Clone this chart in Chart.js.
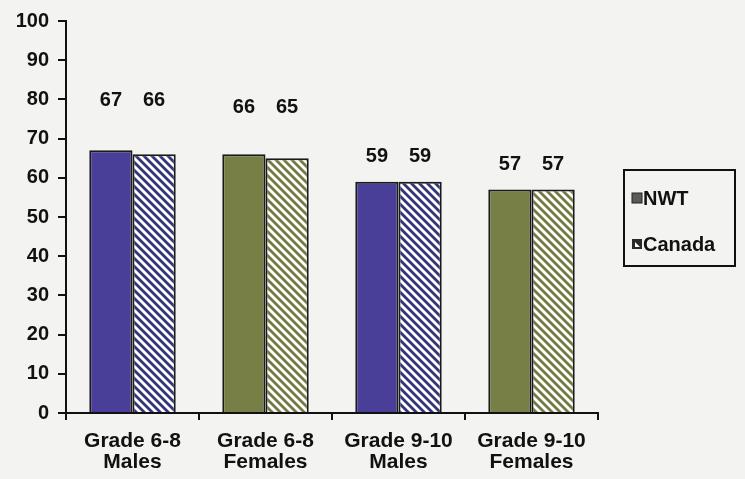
<!DOCTYPE html>
<html>
<head>
<meta charset="utf-8">
<script src="https://cdn.jsdelivr.net/npm/chart.js@4.4.0/dist/chart.umd.min.js"></script>
<style>
  html, body { margin: 0; padding: 0; background: #f3f3f1; }
  #c { display: block; }
</style>
</head>
<body>
<canvas id="c" width="745" height="479"></canvas>
<script>
// ---- data ----
const categories = [["Grade 6-8", "Males"], ["Grade 6-8", "Females"], ["Grade 9-10", "Males"], ["Grade 9-10", "Females"]];
const seriesNames = ["NWT", "Canada"];
const nwtValues = [67, 66, 59, 57];
const canadaValues = [66, 65, 59, 57];
const yTicks = [0, 10, 20, 30, 40, 50, 60, 70, 80, 90, 100];

// ---- styles ----
const FONT = "'Liberation Sans', Arial, sans-serif";
const BLUE = "#4a3f98";
const OLIVE = "#787f46";
const BLUE_H = "#33357a";
const OLIVE_H = "#747b42";

function hatch(bg) {
  const s = 16, step = 8;
  const c = document.createElement('canvas');
  c.width = s; c.height = s;
  const g = c.getContext('2d');
  g.fillStyle = bg; g.fillRect(0, 0, s, s);
  g.strokeStyle = '#ffffff'; g.lineWidth = 2.8; g.lineCap = 'square';
  for (let k = -3; k <= 3; k++) {
    g.beginPath();
    g.moveTo(k * step - 4, -4);
    g.lineTo(k * step + s + 4, s + 4);
    g.stroke();
  }
  return g.createPattern(c, 'repeat');
}
const ctx = document.getElementById('c').getContext('2d');
const blueHatch = hatch(BLUE_H);
const oliveHatch = hatch(OLIVE_H);

const valueLabels = {
  id: 'valueLabels',
  afterDatasetsDraw(chart, args, opts) {
    const g = chart.ctx;
    const ys = chart.scales.y;
    g.save();
    g.font = "bold 20px " + FONT;
    g.fillStyle = '#111';
    g.textAlign = 'center';
    g.textBaseline = 'middle';
    chart.data.datasets.forEach((ds, di) => {
      const meta = chart.getDatasetMeta(di);
      meta.data.forEach((el, i) => {
        const groupMax = Math.max(...chart.data.datasets.map(d => d.data[i]));
        const y = ys.getPixelForValue(groupMax) - opts.offsets[i];
        g.fillText(String(ds.data[i]), el.x, y);
      });
    });
    g.restore();
  }
};

const boxLegend = {
  id: 'boxLegend',
  afterDraw(chart) {
    const g = chart.ctx;
    const ca = chart.chartArea;
    const x = ca.right + 26, w = 111, h = 96;
    const y = (ca.top + ca.bottom) / 2 - h / 2 + 1;
    g.save();
    g.strokeStyle = '#111'; g.lineWidth = 2;
    g.strokeRect(x, y, w, h);
    g.font = "bold 20px " + FONT;
    g.fillStyle = '#111';
    g.textBaseline = 'middle';
    g.textAlign = 'left';
    const mx = x + 8;
    let my = y + 28;
    g.fillStyle = '#5a5a5a'; g.fillRect(mx, my - 5, 10, 10);
    g.strokeStyle = '#222'; g.lineWidth = 1; g.strokeRect(mx, my - 5, 10, 10);
    g.fillStyle = '#111'; g.fillText(seriesNames[0], mx + 11, my + 1);
    my = y + 74;
    g.fillStyle = '#2a2a2a'; g.fillRect(mx, my - 5, 10, 10);
    g.fillStyle = '#ffffff';
    g.beginPath(); g.moveTo(mx + 3, my - 2); g.lineTo(mx + 8, my + 3); g.lineTo(mx + 3, my + 3); g.closePath(); g.fill();
    g.fillStyle = '#111'; g.fillText(seriesNames[1], mx + 11, my + 1);
    g.restore();
  }
};

new Chart(ctx, {
  type: 'bar',
  data: {
    labels: categories,
    datasets: [
      {
        label: seriesNames[0],
        data: nwtValues,
        backgroundColor: [BLUE, OLIVE, BLUE, OLIVE],
        borderColor: '#1a1a1a',
        borderWidth: 2,
        borderSkipped: 'bottom'
      },
      {
        label: seriesNames[1],
        data: canadaValues,
        backgroundColor: [blueHatch, oliveHatch, blueHatch, oliveHatch],
        borderColor: '#1a1a1a',
        borderWidth: 2,
        borderSkipped: 'bottom'
      }
    ]
  },
  options: {
    responsive: false,
    devicePixelRatio: 1,
    animation: false,
    categoryPercentage: 0.65,
    barPercentage: 1.0,
    layout: { padding: { left: 0, top: 3, right: 147, bottom: 0 } },
    plugins: {
      legend: { display: false },
      tooltip: { enabled: false },
      valueLabels: { offsets: [50, 47, 25, 25] }
    },
    scales: {
      x: {
        afterFit(scale) { scale.height = 66; },
        grid: { offset: true, drawOnChartArea: false, drawTicks: true, tickLength: 7, color: '#111', lineWidth: 2 },
        border: { display: true, color: '#111', width: 2 },
        ticks: { color: '#111', font: { family: FONT, size: 21, weight: 'bold', lineHeight: 1.0 }, padding: 11, maxRotation: 0, autoSkip: false }
      },
      y: {
        min: 0, max: 100,
        afterFit(scale) { scale.width = 66; },
        afterBuildTicks(scale) { scale.ticks = yTicks.map(v => ({ value: v })); },
        grid: { drawOnChartArea: false, drawTicks: true, tickLength: 8, color: '#111', lineWidth: 2 },
        border: { display: true, color: '#111', width: 2 },
        ticks: { color: '#111', font: { family: FONT, size: 20, weight: 'bold' }, padding: 9 }
      }
    }
  },
  plugins: [valueLabels, boxLegend]
});
</script>
</body>
</html>
